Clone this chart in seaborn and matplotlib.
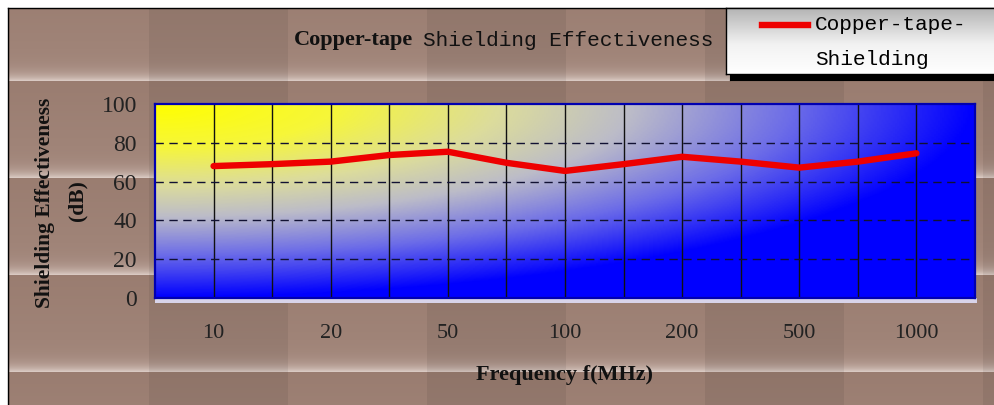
import numpy as np
import matplotlib
matplotlib.use("Agg")
import matplotlib.pyplot as plt
from matplotlib.lines import Line2D
from matplotlib.legend_handler import HandlerLine2D
from matplotlib.colors import LinearSegmentedColormap
import seaborn as sns

# ---------------- data ----------------
shielding_db = [68.0, 69.0, 70.3, 73.7, 75.4, 69.7, 65.5, 69.0, 72.8, 70.3, 67.2, 70.3, 74.6]
freq_tick_labels = ["10", "20", "50", "100", "200", "500", "1000"]
y_ticks = [0, 20, 40, 60, 80, 100]
series_name = "Copper-tape-\nShielding"

W, H = 995, 405
fig = plt.figure(figsize=(W / 100, H / 100), dpi=100)
fig.patch.set_facecolor("white")

# ---------------- textured background (decorative) ----------------
bx0, by0 = 8, 8
bw, bh = W - bx0, H - by0
yy, xx = np.mgrid[0:bh, 0:bw]
X = xx + bx0
Y = yy + by0
col = ((X - 10) // 139).astype(int)
phase = ((Y - 81) % 97) / 97.0
f = 0.12 * phase + 0.88 * phase ** 14
dark = np.array([148, 120, 108]) / 255.0
light = np.array([218, 204, 198]) / 255.0
tex = dark[None, None, :] + f[..., None] * (light - dark)[None, None, :]
shade = np.where(col % 2 == 0, 1.04, 0.97)
tex = np.clip(tex * shade[..., None], 0, 1)

bg = fig.add_axes([bx0 / W, 0, bw / W, bh / H], zorder=-10)
bg.imshow(tex, extent=(0, bw, 0, bh), aspect="auto", interpolation="bilinear")
bg.set_xticks([]); bg.set_yticks([])
for s in ["right", "bottom"]:
    bg.spines[s].set_visible(False)
for s in ["left", "top"]:
    bg.spines[s].set_color("black"); bg.spines[s].set_linewidth(1.0)

# ---------------- legend background box ----------------
lx0, ly0, lx1, ly1 = 726, 8, 995, 74
sh = fig.add_axes([(lx0 + 4) / W, (H - ly1 - 6) / H, (lx1 - lx0) / W, (ly1 - ly0) / H], zorder=-5)
sh.set_facecolor("black"); sh.set_xticks([]); sh.set_yticks([])
lg = fig.add_axes([lx0 / W, (H - ly1) / H, (lx1 - lx0) / W, (ly1 - ly0) / H], zorder=-4)
grad = np.linspace(0, 1, 100)[:, None] * np.ones((1, 50))
lcmap = LinearSegmentedColormap.from_list("lg", [(0, "#b4b4b4"), (0.55, "#f2f2f2"), (1, "#ffffff")])
lg.imshow(grad, cmap=lcmap, aspect="auto", extent=(0, 1, 0, 1), origin="upper")
lg.set_xticks([]); lg.set_yticks([])
for s in lg.spines.values():
    s.set_color("black"); s.set_linewidth(1.0)

# light strip under the plot area
strip = fig.add_axes([155 / W, 102 / H, 822 / W, 5 / H], zorder=-3)
strip.set_facecolor("#d8d4ea"); strip.set_xticks([]); strip.set_yticks([])
for s in strip.spines.values():
    s.set_visible(False)

# ---------------- main plot ----------------
ax = fig.add_axes([155 / W, 107 / H, 820 / W, 194 / H])
n = len(shielding_db)
xmax = n + 1
u, v = np.meshgrid(np.linspace(0, 1, 400), np.linspace(0, 1, 200))
r = np.clip(np.sqrt(u ** 2 + v ** 2), 0, 1)
pcmap = LinearSegmentedColormap.from_list(
    "pg", [(0, "#ffff00"), (0.22, "#f6f63a"), (0.42, "#dcdc9c"), (0.58, "#bcbcc8"),
           (0.78, "#6c6ce8"), (1, "#0000ff")])
ax.imshow(r, cmap=pcmap, extent=(0, xmax, 0, 100), origin="upper", aspect="auto",
          zorder=0, vmin=0, vmax=1)
ax.set_xlim(0, xmax)
ax.set_ylim(0, 100)

x_idx = np.arange(1, n + 1)
sns.lineplot(x=x_idx, y=shielding_db, ax=ax, color="#ee0000", linewidth=4.6,
             zorder=5, solid_capstyle="round", label=series_name, legend=False)

ax.set_xticks(x_idx[::2])
ax.set_xticklabels(freq_tick_labels)
ax.set_yticks(y_ticks)
ax.grid(False)
for xv in x_idx:
    ax.axvline(xv, color="#111111", linewidth=1.0, zorder=2)
for yv in y_ticks[1:-1]:
    ax.axhline(yv, color="#111133", linewidth=1.0, linestyle=(0, (6, 4)), zorder=2)

ax.tick_params(axis="both", which="both", length=0)
ax.tick_params(axis="x", pad=19)
ax.tick_params(axis="y", pad=13)
for lab in ax.get_xticklabels():
    lab.set_fontfamily("Liberation Serif"); lab.set_fontsize(16); lab.set_color("#222222")
for lab in ax.get_yticklabels():
    lab.set_fontfamily("Liberation Serif"); lab.set_fontsize(17); lab.set_color("#222222")
for s in ax.spines.values():
    s.set_color("#0000b0"); s.set_linewidth(1.6)
ax.set_xlabel(""); ax.set_ylabel("")

# ---------------- texts ----------------
fig.text(413 / W, 1 - 40 / H, "Copper-tape", ha="right", va="center",
         fontfamily="Liberation Serif", fontweight="bold", fontsize=16, color="#111111")
fig.text(423 / W, 1 - 40 / H, "Shielding Effectiveness", ha="left", va="center",
         fontfamily="Liberation Mono", fontsize=15.2, color="#111111")
fig.text(565 / W, 1 - 375 / H, "Frequency f(MHz)", ha="center", va="center",
         fontfamily="Liberation Serif", fontweight="bold", fontsize=16, color="#111111")
fig.text(45 / W, 1 - 203 / H, "Shielding Effectiveness", ha="center", va="center", rotation=90,
         fontfamily="Liberation Serif", fontweight="bold", fontsize=15.5, color="#111111")
fig.text(77 / W, 1 - 201 / H, "(dB)", ha="center", va="center", rotation=90,
         fontfamily="Liberation Serif", fontweight="bold", fontsize=15.5, color="#111111")

# ---------------- legend ----------------
class TopLineHandler(HandlerLine2D):
    def __init__(self, dy, **kw):
        super().__init__(**kw)
        self.dy = dy

    def create_artists(self, legend, orig_handle, xdescent, ydescent, width, height, fontsize, trans):
        arts = super().create_artists(legend, orig_handle, xdescent, ydescent, width, height, fontsize, trans)
        for a in arts:
            a.set_ydata(np.asarray(a.get_ydata(), dtype=float) + self.dy)
        return arts

handle = Line2D([], [], color="#ee0000", linewidth=4.6)
leg = fig.legend(handles=[handle], labels=[series_name], loc="center left",
                 bbox_to_anchor=(762 / W, 1 - 42 / H), frameon=False,
                 prop={"family": "Liberation Mono", "size": 15.2},
                 handlelength=2.2, handletextpad=0.3, borderpad=0, borderaxespad=0,
                 handler_map={handle: TopLineHandler(dy=12.6)})
for t in leg.get_texts():
    t.set_linespacing(2.04)

fig.savefig("out.png", dpi=100, facecolor="white")
